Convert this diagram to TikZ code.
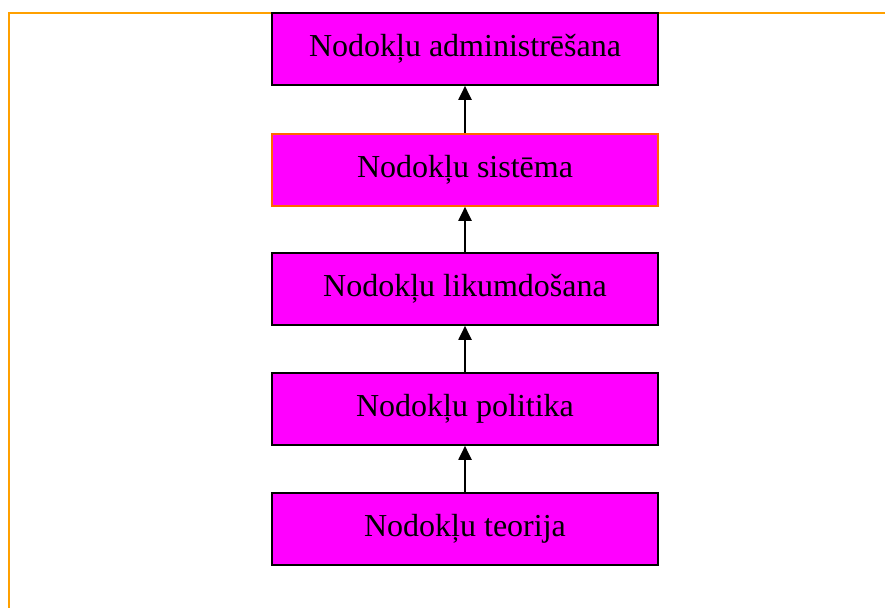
\documentclass[tikz,border=0pt]{standalone}
\usepackage{fontspec}
\setmainfont{Liberation Serif}
\usetikzlibrary{arrows.meta}
\definecolor{framecol}{RGB}{255,160,0}
\definecolor{accentedge}{RGB}{255,102,0}
\definecolor{boxfill}{RGB}{255,0,255}
\tikzset{
  levelbox/.style={draw=black, line width=1.6pt, fill=boxfill,
    minimum width=386pt, minimum height=72pt, inner sep=0pt,
    font=\fontsize{32}{38}\selectfont},
  uparrow/.style={line width=2pt, -{Triangle[length=14pt,width=13pt]}}
}
\begin{document}
\begin{tikzpicture}[x=1pt,y=-1pt]
  \useasboundingbox (0,0) rectangle (885,608);
  % open frame: top and left edges
  \draw[framecol, line width=2pt] (885,13) -- (9,13) -- (9,608);
  % stacked levels
  \node[levelbox] (admin) at (465,49) {Nodokļu administrēšana};
  \node[levelbox, draw=accentedge, line width=1.6pt] (sist) at (465,170) {Nodokļu sistēma};
  \node[levelbox] (likum) at (465,289) {Nodokļu likumdošana};
  \node[levelbox] (polit) at (465,409) {Nodokļu politika};
  \node[levelbox] (teor) at (465,529) {Nodokļu teorija};
  % arrows pointing upward between levels
  \draw[uparrow] (teor.north) -- (polit.south);
  \draw[uparrow] (polit.north) -- (likum.south);
  \draw[uparrow] (likum.north) -- (sist.south);
  \draw[uparrow] (sist.north) -- (admin.south);
\end{tikzpicture}
\end{document}
